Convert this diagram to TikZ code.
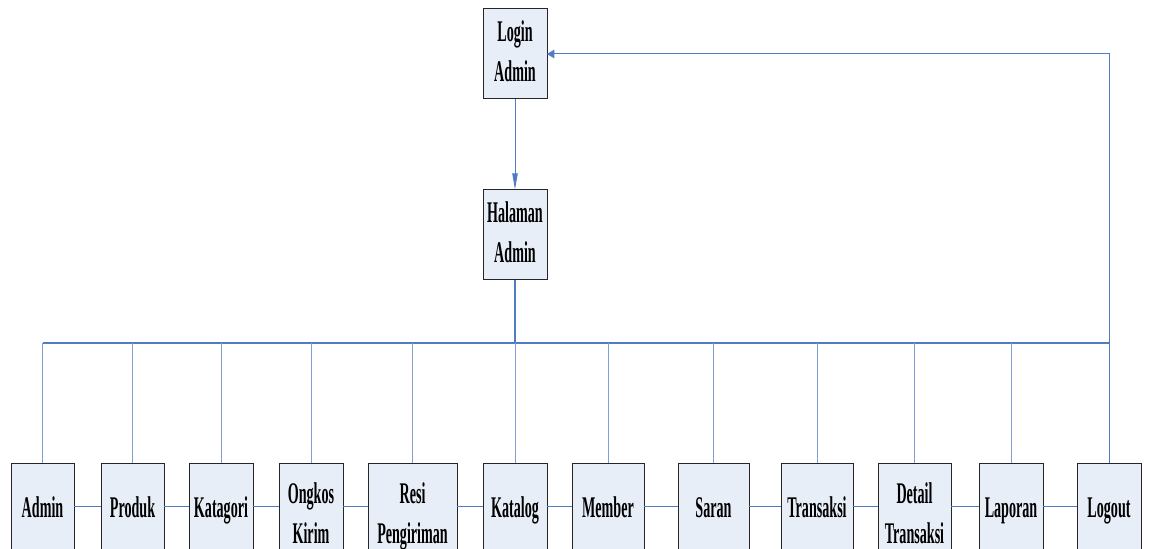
\documentclass[tikz,border=0pt]{standalone}
\usepackage{fontspec}
\setmainfont{Liberation Serif}
\usepackage{graphicx}
\usetikzlibrary{arrows.meta}
\definecolor{boxfill}{HTML}{E8EEF8}
\definecolor{lineblue}{HTML}{4F7CC4}
\definecolor{dropblue}{HTML}{7F9FD6}
\newcommand\nartext[1]{\scalebox{0.47}[1]{\begin{tabular}{@{}c@{}}#1\end{tabular}}}
\begin{document}
\begin{tikzpicture}[x=0.75pt,y=-0.75pt,
  box/.style={draw=black!85, line width=0.75pt, fill=boxfill, inner sep=0pt, outer sep=0pt},
  txt/.style={font=\fontsize{22.5}{30}\selectfont\bfseries, inner sep=0pt},
  busline/.style={draw=lineblue, line width=1.5pt},
  drop/.style={draw=dropblue, line width=0.75pt},
  link/.style={draw=lineblue, line width=0.75pt},
  downarrow/.style={draw=lineblue, line width=0.75pt, -{Triangle[length=12pt,width=4pt,fill=lineblue]}},
  backarrow/.style={draw=lineblue, line width=0.75pt, -{Triangle[length=5.5pt,width=6.5pt,fill=lineblue]}}]
\useasboundingbox (0,0) rectangle (1149,549);
\clip (0,0) rectangle (1149,549);
\coordinate (busy) at (0,343);
\coordinate (row) at (0,506);
% top boxes
\node[box, minimum width=48pt, minimum height=67.5pt] (login) at (515,54) {};
\node[txt] (logint) at (login) {\nartext{Login\\Admin}};
\node[box, minimum width=48pt, minimum height=67.5pt] (halaman) at (515,234.5) {};
\node[txt] (halamant) at (halaman) {\nartext{Halaman\\Admin}};
% bottom boxes
\node[box, minimum width=47.25pt, minimum height=80.25pt] (admin) at (42.5,516.5) {};
\node[txt] (admint) at (42.5,509) {\nartext{Admin}};
\node[box, minimum width=47.25pt, minimum height=80.25pt] (produk) at (132.5,516.5) {};
\node[txt] (produkt) at (132.5,509) {\nartext{Produk}};
\node[box, minimum width=48pt, minimum height=80.25pt] (katagori) at (221,516.5) {};
\node[txt] (katagorit) at (221,509) {\nartext{Katagori}};
\node[box, minimum width=48pt, minimum height=80.25pt] (ongkos) at (311,516.5) {};
\node[txt] (ongkost) at (311,515) {\nartext{Ongkos\\Kirim}};
\node[box, minimum width=66.75pt, minimum height=80.25pt] (resi) at (412.5,516.5) {};
\node[txt] (resit) at (412.5,515) {\nartext{Resi\\Pengiriman}};
\node[box, minimum width=48pt, minimum height=80.25pt] (katalog) at (515,516.5) {};
\node[txt] (katalogt) at (515,509) {\nartext{Katalog}};
\node[box, minimum width=54pt, minimum height=80.25pt] (member) at (608,516.5) {};
\node[txt] (membert) at (608,509) {\nartext{Member}};
\node[box, minimum width=53.25pt, minimum height=80.25pt] (saran) at (713.5,516.5) {};
\node[txt] (sarant) at (713.5,509) {\nartext{Saran}};
\node[box, minimum width=54pt, minimum height=80.25pt] (transaksi) at (817,516.5) {};
\node[txt] (transaksit) at (817,509) {\nartext{Transaksi}};
\node[box, minimum width=54.75pt, minimum height=80.25pt] (detail) at (914.5,516.5) {};
\node[txt] (detailt) at (914.5,515) {\nartext{Detail\\Transaksi}};
\node[box, minimum width=48pt, minimum height=80.25pt] (laporan) at (1011,516.5) {};
\node[txt] (laporant) at (1011,509) {\nartext{Laporan}};
\node[box, minimum width=48pt, minimum height=80.25pt] (logout) at (1109,516.5) {};
\node[txt] (logoutt) at (1109,509) {\nartext{Logout}};
% connectors
\draw[downarrow] (login.south) -- (halaman.north);
\draw[busline] (halaman.south) -- (halaman.south |- busy);
\draw[busline] (admin.north |- busy) -- (logout.north |- busy);
\foreach \n in {admin,produk,katagori,ongkos,resi,katalog,member,saran,transaksi,detail,laporan}
  \draw[drop] (\n.north) -- (\n.north |- busy);
\draw[backarrow] (logout.north) |- (login.east);
\draw[link] (admin.east |- row) -- (produk.west |- row);
\draw[link] (produk.east |- row) -- (katagori.west |- row);
\draw[link] (katagori.east |- row) -- (ongkos.west |- row);
\draw[link] (ongkos.east |- row) -- (resi.west |- row);
\draw[link] (resi.east |- row) -- (katalog.west |- row);
\draw[link] (katalog.east |- row) -- (member.west |- row);
\draw[link] (member.east |- row) -- (saran.west |- row);
\draw[link] (saran.east |- row) -- (transaksi.west |- row);
\draw[link] (transaksi.east |- row) -- (detail.west |- row);
\draw[link] (detail.east |- row) -- (laporan.west |- row);
\draw[link] (laporan.east |- row) -- (logout.west |- row);
\end{tikzpicture}
\end{document}
